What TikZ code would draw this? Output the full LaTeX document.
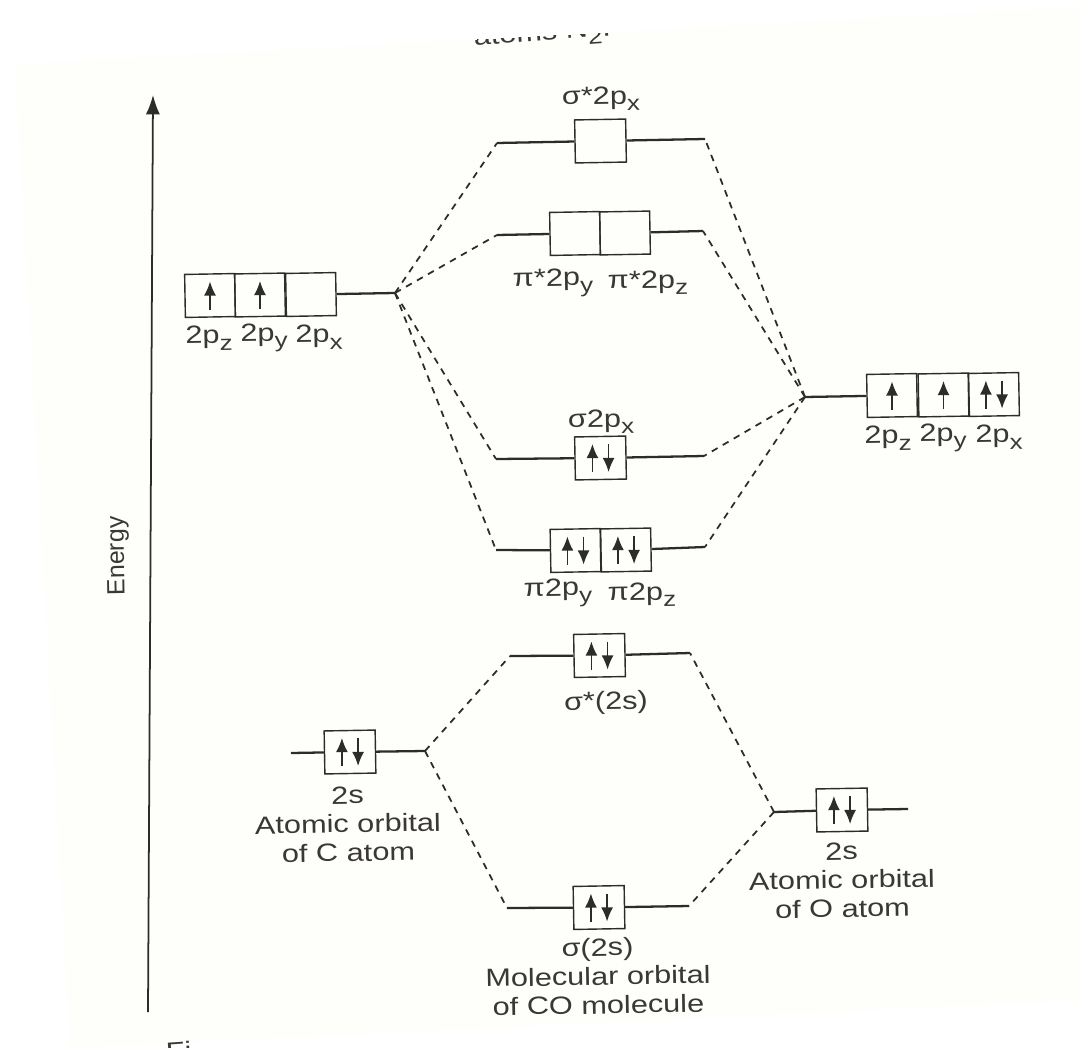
\documentclass[tikz,border=0pt]{standalone}
\usepackage{fontspec}
\setmainfont[FakeStretch=1.23]{Liberation Sans}
\newfontfamily\plainfont{Liberation Sans}
\usetikzlibrary{arrows.meta}
\definecolor{paper}{HTML}{FEFEFA}
\definecolor{ink}{HTML}{2E2C2A}
\definecolor{inktext}{HTML}{3A3836}
\tikzset{
    orb/.style={draw=ink, line width=0.8pt, minimum width=1.02cm, minimum height=0.86cm, inner sep=0pt, rotate=1},
    orbcell/.style={orb, minimum width=1cm},
    lab/.style={text=inktext, inner sep=0pt, rotate=1, align=center, font=\fontsize{14.2}{16.4}\selectfont},
    level/.style={draw=ink, line width=1.3pt},
    link/.style={draw=ink, line width=1pt, dash pattern=on 3.8pt off 3.4pt},
    spin/.style={draw=ink, line width=0.9pt, -{Latex[length=8pt,width=6.8pt]}},
}
\newcommand{\orbsub}[1]{\raisebox{-0.28em}{\fontsize{12}{12}\selectfont #1}}
\newcommand{\spinup}[2][0]{\draw[spin] ([xshift=#1pt]#2.center) ++(0,14) -- ++(0,-28);}
\newcommand{\spindown}[2][0]{\draw[spin] ([xshift=#1pt]#2.center) ++(0,-14) -- ++(0,28);}
\newcommand{\spinpair}[1]{\spinup[-4.6]{#1}\spindown[4.6]{#1}}
\begin{document}
\begin{tikzpicture}[x=0.02cm,y=-0.02cm]
    \useasboundingbox (0,0) rectangle (1079,1048);
    % Page
    \fill[paper] (15,64) -- (1079,7) -- (1079,1000) -- (70,1048) -- cycle;
    \begin{scope}
        \clip (15,64) -- (1079,7) -- (1079,1000) -- (15,1000) -- cycle;
        \node[lab, rotate=3, anchor=south east] (topline) at (612,43) {atoms N\orbsub{2}.};
    \end{scope}
    \begin{scope}
        \clip (0,1000) rectangle (1079,1048);
        \node[lab, rotate=3, anchor=north west] (figline) at (165,1042) {Fi};
    \end{scope}
    % Energy axis
    \coordinate (axisbot) at (148,1012);
    \coordinate (axistop) at (153,95);
    \draw[ink, line width=1pt, -{Latex[length=11pt,width=8pt]}] (axisbot) -- (axistop);
    \node[lab, rotate=90, font=\fontsize{14.2}{16.4}\plainfont] (energy) at (118,556) {Energy};
    % Nodes
    \node[orb] (sigstar) at (600.5,141) {};
    \node[orbcell] (pistary) at (575,233.5) {};
    \node[orbcell] (pistarz) at (625,233) {};
    \node[orbcell] (cz) at (210,295.5) {};
    \node[orbcell] (cy) at (260,295) {};
    \node[orbcell] (cx) at (311,294.5) {};
    \node[orbcell] (oz) at (892,395.5) {};
    \node[orbcell] (oy) at (943.5,395) {};
    \node[orbcell] (ox) at (994,394.5) {};
    \node[orb] (sigp) at (600.5,458) {};
    \node[orbcell] (piy) at (575.5,550.5) {};
    \node[orbcell] (piz) at (626,550) {};
    \node[orb] (sigstars) at (599.5,655.5) {};
    \node[orb] (cs) at (350,752) {};
    \node[orb] (os) at (842,810) {};
    \node[orb] (sigs) at (599,907.5) {};
    % Level ends
    \coordinate (sigstarl) at (497,143);
    \coordinate (sigstarr) at (705,139);
    \coordinate (pistarl) at (497,235);
    \coordinate (pistarr) at (703,231);
    \coordinate (cpend) at (395,293);
    \coordinate (opend) at (805,397);
    \coordinate (sigpl) at (496,459);
    \coordinate (sigpr) at (704,456);
    \coordinate (pil) at (496,550);
    \coordinate (pir) at (705,547);
    \coordinate (sigstarsl) at (510,656);
    \coordinate (sigstarsr) at (690,653);
    \coordinate (csl) at (291,753);
    \coordinate (csr) at (425,751);
    \coordinate (osl) at (774,812);
    \coordinate (osr) at (908,809);
    \coordinate (sigsl) at (507,908);
    \coordinate (sigsr) at (689,906);
    % Spins
    \spinup{cz}
    \spinup{cy}
    \spinup{oz}
    \spinup{oy}
    \spinpair{ox}
    \spinpair{sigp}
    \spinpair{piy}
    \spinpair{piz}
    \spinpair{sigstars}
    \spinpair{cs}
    \spinpair{os}
    \spinpair{sigs}
    % Levels
    \draw[level] (sigstarl) -- (sigstar);
    \draw[level] (sigstar) -- (sigstarr);
    \draw[level] (pistarl) -- (pistary);
    \draw[level] (pistarz) -- (pistarr);
    \draw[level] (cx) -- (cpend);
    \draw[level] (opend) -- (oz);
    \draw[level] (sigpl) -- (sigp);
    \draw[level] (sigp) -- (sigpr);
    \draw[level] (pil) -- (piy);
    \draw[level] (piz) -- (pir);
    \draw[level] (sigstarsl) -- (sigstars);
    \draw[level] (sigstars) -- (sigstarsr);
    \draw[level] (csl) -- (cs);
    \draw[level] (cs) -- (csr);
    \draw[level] (osl) -- (os);
    \draw[level] (os) -- (osr);
    \draw[level] (sigsl) -- (sigs);
    \draw[level] (sigs) -- (sigsr);
    % Edges
    \draw[link] (cpend) -- (sigstarl);
    \draw[link] (cpend) -- (pistarl);
    \draw[link] (cpend) -- (sigpl);
    \draw[link] (cpend) -- (pil);
    \draw[link] (opend) -- (sigstarr);
    \draw[link] (opend) -- (pistarr);
    \draw[link] (opend) -- (sigpr);
    \draw[link] (opend) -- (pir);
    \draw[link] (csr) -- (sigstarsl);
    \draw[link] (csr) -- (sigsl);
    \draw[link] (osl) -- (sigstarsr);
    \draw[link] (osl) -- (sigsr);
    % Labels
    \node[lab] (sigstarlab) at (601,99) {σ*2p\orbsub{x}};
    \node[lab] (pistarylab) at (553,283) {π*2p\orbsub{y}};
    \node[lab] (pistarzlab) at (648,283) {π*2p\orbsub{z}};
    \node[lab] (czlab) at (209,338) {2p\orbsub{z}};
    \node[lab] (cylab) at (264,338) {2p\orbsub{y}};
    \node[lab] (cxlab) at (319,337) {2p\orbsub{x}};
    \node[lab] (ozlab) at (888,438) {2p\orbsub{z}};
    \node[lab] (oylab) at (943,438) {2p\orbsub{y}};
    \node[lab] (oxlab) at (999,437) {2p\orbsub{x}};
    \node[lab] (sigplab) at (601,422) {σ2p\orbsub{x}};
    \node[lab] (piylab) at (558,593) {π2p\orbsub{y}};
    \node[lab] (pizlab) at (642,595) {π2p\orbsub{z}};
    \node[lab] (sigstarslab) at (606,703) {σ*(2s)};
    \node[lab] (cslab) at (348,824) {2s\\Atomic orbital\\of C atom};
    \node[lab] (oslab) at (842,880) {2s\\Atomic orbital\\of O atom};
    \node[lab] (sigslab) at (598,976) {σ(2s)\\Molecular orbital\\of CO molecule};
\end{tikzpicture}
\end{document}
